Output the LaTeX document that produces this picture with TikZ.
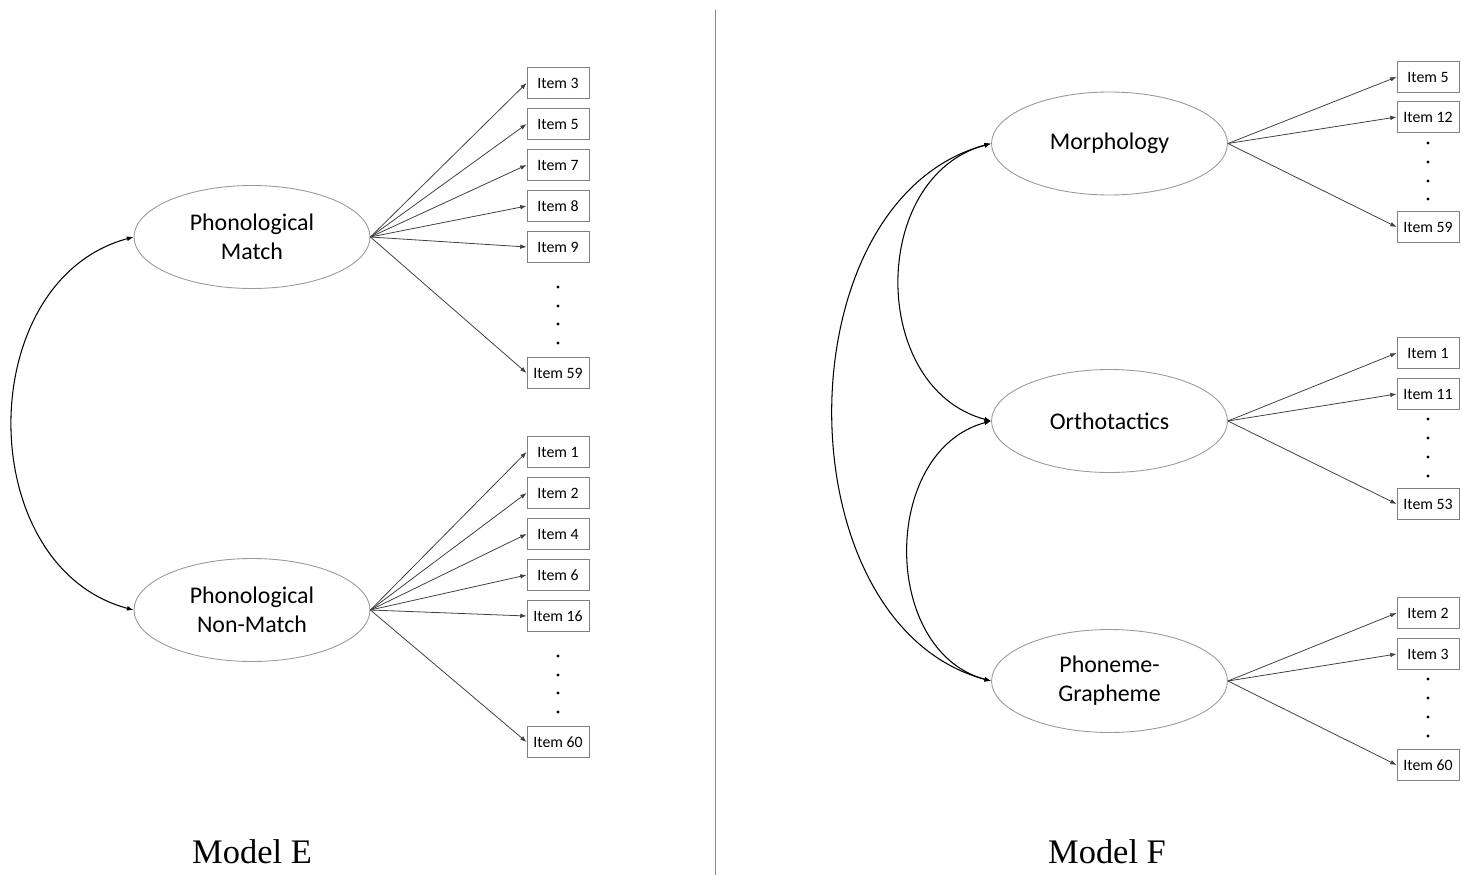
\documentclass[tikz,border=0pt]{standalone}
\usepackage{fontspec}
\setmainfont{Carlito}
\newfontfamily\titrefont{Liberation Serif}
\usetikzlibrary{arrows.meta,shapes.geometric}
\begin{document}
\begin{tikzpicture}[x=0.02cm,y=-0.02cm]
		% Styles
		\tikzstyle{fleche}=[-{Latex[length=3.6pt,width=2.6pt]},black!75,line width=0.45pt]
		\tikzstyle{lien}=[{Latex[length=3.8pt,width=2.8pt]}-{Latex[length=3.8pt,width=2.8pt]},black,line width=0.6pt]
		\tikzstyle{latente}=[ellipse,draw=black!40,line width=0.5pt,minimum width=4.72cm,minimum height=2.06cm,inner sep=0pt,align=center,font=\fontsize{13.6}{16.5}\selectfont]
		\tikzstyle{item}=[rectangle,draw=black!50,line width=0.5pt,minimum width=1.24cm,minimum height=0.62cm,inner sep=0pt,font=\fontsize{9}{10}\selectfont]
		\tikzstyle{titre}=[font=\titrefont\fontsize{19.6}{22}\selectfont]
		% Dimensions
		\def\ColLatE{252}
		\def\ColItemE{558}
		\def\ColLatF{1109.5}
		\def\ColItemF{1428}
		\useasboundingbox (0,0) rectangle (1463,875);
		% Separation
		\draw[black!45,line width=0.5pt] (715,10) -- (715,875);
		% Modele E
		\node[latente] (PM) at ({\ColLatE},237) {Phonological\\Match};
		\node[latente] (PNM) at ({\ColLatE},610) {Phonological\\Non-Match};
		\node[item] (E3) at ({\ColItemE},83) {Item 3};
		\node[item] (E5) at ({\ColItemE},124) {Item 5};
		\node[item] (E7) at ({\ColItemE},165) {Item 7};
		\node[item] (E8) at ({\ColItemE},206) {Item 8};
		\node[item] (E9) at ({\ColItemE},247) {Item 9};
		\node[item] (E59) at ({\ColItemE},373) {Item 59};
		\node[item] (E1) at ({\ColItemE},452) {Item 1};
		\node[item] (E2) at ({\ColItemE},493) {Item 2};
		\node[item] (E4) at ({\ColItemE},534) {Item 4};
		\node[item] (E6) at ({\ColItemE},575) {Item 6};
		\node[item] (E16) at ({\ColItemE},616) {Item 16};
		\node[item] (E60) at ({\ColItemE},742) {Item 60};
		\node[titre] (ME) at ({\ColLatE},852) {Model E};
		%
		\fill ({\ColItemE},287) circle (0.9pt) ({\ColItemE},306) circle (0.9pt) ({\ColItemE},324) circle (0.9pt) ({\ColItemE},343) circle (0.9pt);
		\fill ({\ColItemE},656) circle (0.9pt) ({\ColItemE},675) circle (0.9pt) ({\ColItemE},693) circle (0.9pt) ({\ColItemE},712) circle (0.9pt);
		% Modele F
		\node[latente] (MO) at ({\ColLatF},143.5) {Morphology};
		\node[latente] (OR) at ({\ColLatF},421) {Orthotactics};
		\node[latente] (PG) at ({\ColLatF},681) {Phoneme-\\Grapheme};
		\node[item] (F5) at ({\ColItemF},77) {Item 5};
		\node[item] (F12) at ({\ColItemF},117) {Item 12};
		\node[item] (F59) at ({\ColItemF},227) {Item 59};
		\node[item] (F1) at ({\ColItemF},353) {Item 1};
		\node[item] (F11) at ({\ColItemF},394) {Item 11};
		\node[item] (F53) at ({\ColItemF},504) {Item 53};
		\node[item] (F2) at ({\ColItemF},613) {Item 2};
		\node[item] (F3) at ({\ColItemF},654) {Item 3};
		\node[item] (F60) at ({\ColItemF},765) {Item 60};
		\node[titre] (MF) at (1107,852) {Model F};
		%
		\fill ({\ColItemF},143) circle (0.9pt) ({\ColItemF},162) circle (0.9pt) ({\ColItemF},181) circle (0.9pt) ({\ColItemF},199) circle (0.9pt);
		\fill ({\ColItemF},419) circle (0.9pt) ({\ColItemF},438) circle (0.9pt) ({\ColItemF},457) circle (0.9pt) ({\ColItemF},476) circle (0.9pt);
		\fill ({\ColItemF},679) circle (0.9pt) ({\ColItemF},698) circle (0.9pt) ({\ColItemF},717) circle (0.9pt) ({\ColItemF},736) circle (0.9pt);
		% Arcs
		\draw[fleche] (PM.east) -- (E3.west);
		\draw[fleche] (PM.east) -- (E5.west);
		\draw[fleche] (PM.east) -- (E7.west);
		\draw[fleche] (PM.east) -- (E8.west);
		\draw[fleche] (PM.east) -- (E9.west);
		\draw[fleche] (PM.east) -- (E59.west);
		\draw[fleche] (PNM.east) -- (E1.west);
		\draw[fleche] (PNM.east) -- (E2.west);
		\draw[fleche] (PNM.east) -- (E4.west);
		\draw[fleche] (PNM.east) -- (E6.west);
		\draw[fleche] (PNM.east) -- (E16.west);
		\draw[fleche] (PNM.east) -- (E60.west);
		\draw[fleche] (MO.east) -- (F5.west);
		\draw[fleche] (MO.east) -- (F12.west);
		\draw[fleche] (MO.east) -- (F59.west);
		\draw[fleche] (OR.east) -- (F1.west);
		\draw[fleche] (OR.east) -- (F11.west);
		\draw[fleche] (OR.east) -- (F53.west);
		\draw[fleche] (PG.east) -- (F2.west);
		\draw[fleche] (PG.east) -- (F3.west);
		\draw[fleche] (PG.east) -- (F60.west);
		% Correlations
		\draw[lien] (PM.west) to[out=195,in=165,looseness=1.15] (PNM.west);
		\draw[lien] (MO.west) to[out=195,in=165,looseness=1.17] (OR.west);
		\draw[lien] (OR.west) to[out=195,in=165,looseness=1.13] (PG.west);
		\draw[lien] (MO.west) to[out=195,in=165,looseness=1.04] (PG.west);
\end{tikzpicture}
\end{document}
